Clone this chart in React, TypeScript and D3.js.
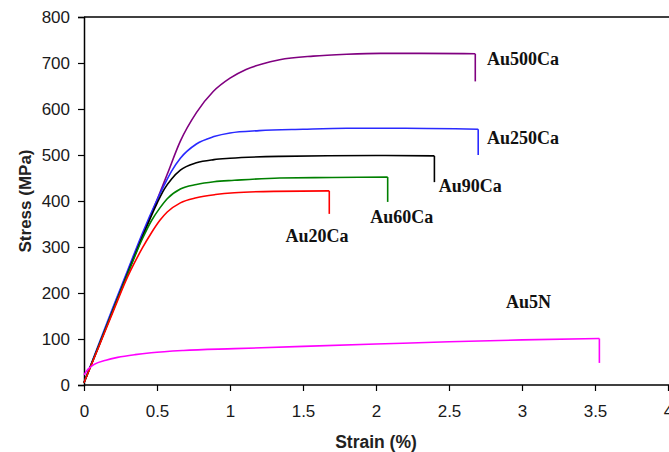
import React, { useRef, useEffect } from 'react';
import * as d3 from 'd3';

const width = 669;
const height = 452;

const xTicks = [0, 0.5, 1, 1.5, 2, 2.5, 3, 3.5, 4];
const yTicks = [0, 100, 200, 300, 400, 500, 600, 700, 800];

// stress-strain curves (strain %, stress MPa)
const au500Strain = [0, 0.1, 0.2, 0.3, 0.4, 0.5, 0.57, 0.66, 0.77, 0.885, 1.0, 1.11, 1.22, 1.34, 1.57, 1.8, 2.03, 2.3, 2.68];
const au500Stress = [5, 85, 165, 245, 325, 402, 458, 530, 592, 638, 667, 686, 698, 707, 715, 719, 721, 721, 720];

const au250Strain = [0, 0.1, 0.2, 0.3, 0.4, 0.5, 0.55, 0.6, 0.66, 0.77, 0.89, 1.0, 1.2, 1.5, 1.8, 2.2, 2.7];
const au250Stress = [5, 88, 170, 250, 330, 402, 435, 465, 493, 524, 540, 548, 553, 556, 558, 558, 556];

const au90Strain = [0, 0.1, 0.2, 0.3, 0.4, 0.5, 0.55, 0.6, 0.66, 0.77, 0.89, 1.0, 1.34, 2.0, 2.4];
const au90Stress = [5, 84, 164, 244, 322, 395, 426, 448, 467, 483, 490, 493, 497, 499, 498];

const au60Strain = [0, 0.1, 0.2, 0.3, 0.4, 0.46, 0.52, 0.57, 0.66, 0.77, 0.89, 1.03, 1.34, 1.7, 2.08];
const au60Stress = [5, 84, 163, 242, 318, 356, 385, 405, 426, 436, 442, 445, 450, 451, 452];

const au20Strain = [0, 0.1, 0.2, 0.3, 0.34, 0.4, 0.46, 0.52, 0.57, 0.66, 0.77, 0.9, 1.03, 1.3, 1.68];
const au20Stress = [5, 82, 160, 236, 262, 298, 330, 358, 376, 396, 407, 414, 418, 421, 422];

const au5nStrain = [0, 0.03, 0.07, 0.15, 0.23, 0.35, 0.46, 0.68, 1.03, 1.5, 2.0, 2.5, 3.0, 3.53];
const au5nStress = [22, 35, 45, 54, 60, 66, 70, 75, 79, 84, 89, 94, 98, 101];

const seriesNames = ['Au500Ca', 'Au250Ca', 'Au90Ca', 'Au60Ca', 'Au20Ca', 'Au5N'];
const seriesStrain = [au500Strain, au250Strain, au90Strain, au60Strain, au20Strain, au5nStrain];
const seriesStress = [au500Stress, au250Stress, au90Stress, au60Stress, au20Stress, au5nStress];
const seriesColors = ['#800080', '#2a2aff', '#000000', '#008000', '#ff0000', '#ff00ff'];
// stress right after fracture (vertical drop at the end)
const breakStress = [660, 500, 441, 398, 372, 48];
// where the labels sit, in data units
const labelStrain = [2.76, 2.76, 2.43, 1.96, 1.38, 2.89];
const labelStress = [696, 524, 420, 352, 311, 167];

export default function App() {
  const svgRef = useRef<SVGSVGElement>(null);

  useEffect(() => {
    const svg = d3.select(svgRef.current);
    svg.selectAll('*').remove();

    const x = d3.scaleLinear().domain([0, 4]).range([84, 668]);
    const y = d3.scaleLinear().domain([0, 800]).range([385, 17]);

    // top frame line
    svg
      .append('line')
      .attr('x1', x(0))
      .attr('x2', width)
      .attr('y1', y(800))
      .attr('y2', y(800))
      .attr('stroke', '#000')
      .attr('stroke-width', 1.5);

    // y axis
    const yAxis = svg
      .append('g')
      .attr('transform', `translate(${x(0)},0)`)
      .call(d3.axisLeft(y).tickValues(yTicks).tickSize(6).tickPadding(8).tickFormat(d3.format('d')));
    yAxis.select('.domain').attr('stroke-width', 1.5);
    yAxis.selectAll('line').attr('stroke-width', 1.2);
    yAxis
      .selectAll('text')
      .attr('font-family', '"Liberation Sans", Arial, sans-serif')
      .attr('font-size', 17)
      .attr('fill', '#1a1a1a');

    // x axis
    const xAxis = svg
      .append('g')
      .attr('transform', `translate(0,${y(0)})`)
      .call(d3.axisBottom(x).tickValues(xTicks).tickSize(6).tickPadding(14).tickFormat((d) => String(d)));
    xAxis.select('.domain').attr('d', `M${x(0)},0H${width}`).attr('stroke-width', 1.5);
    xAxis.selectAll('line').attr('stroke-width', 1.2);
    xAxis
      .selectAll('text')
      .attr('font-family', '"Liberation Sans", Arial, sans-serif')
      .attr('font-size', 17)
      .attr('fill', '#1a1a1a');

    // axis titles
    svg
      .append('text')
      .attr('x', (x(0) + x(4)) / 2)
      .attr('y', 448)
      .attr('text-anchor', 'middle')
      .attr('font-family', '"Liberation Sans", Arial, sans-serif')
      .attr('font-weight', 'bold')
      .attr('font-size', 17.5)
      .attr('fill', '#222')
      .text('Strain (%)');

    svg
      .append('text')
      .attr('transform', `translate(31,${(y(0) + y(800)) / 2}) rotate(-90)`)
      .attr('text-anchor', 'middle')
      .attr('font-family', '"Liberation Sans", Arial, sans-serif')
      .attr('font-weight', 'bold')
      .attr('font-size', 17)
      .attr('fill', '#222')
      .text('Stress (MPa)');

    const curve = d3
      .line<number[]>()
      .x((d) => x(d[0]))
      .y((d) => y(d[1]))
      .curve(d3.curveMonotoneX);
    const straight = d3
      .line<number[]>()
      .x((d) => x(d[0]))
      .y((d) => y(d[1]));

    seriesNames.forEach((name, i) => {
      const pts = seriesStrain[i].map((s, j) => [s, seriesStress[i][j]]);
      const last = pts[pts.length - 1];
      svg
        .append('path')
        .attr('d', curve(pts))
        .attr('fill', 'none')
        .attr('stroke', seriesColors[i])
        .attr('stroke-width', 1.6);
      // fracture drop
      svg
        .append('path')
        .attr('d', straight([last, [last[0], breakStress[i]]]))
        .attr('fill', 'none')
        .attr('stroke', seriesColors[i])
        .attr('stroke-width', 1.6);
      svg
        .append('text')
        .attr('x', x(labelStrain[i]))
        .attr('y', y(labelStress[i]))
        .attr('font-family', '"Liberation Serif", "Times New Roman", serif')
        .attr('font-weight', 'bold')
        .attr('font-size', 18)
        .attr('fill', '#111')
        .text(name);
    });
  }, []);

  return (
    <svg
      ref={svgRef}
      width={width}
      height={height}
      style={{ position: 'absolute', left: 0, top: 0, background: '#fff' }}
    ></svg>
  );
}
